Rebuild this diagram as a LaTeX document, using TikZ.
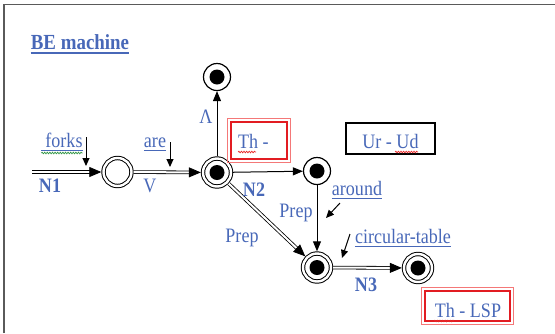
\documentclass[tikz,border=0pt]{standalone}
\usepackage{fontspec}
\setmainfont{Liberation Serif}
\newfontfamily\lblfont[FakeStretch=0.88]{Liberation Serif}
\usetikzlibrary{arrows.meta,decorations.pathmorphing}
\definecolor{lblue}{RGB}{72,104,184}
\definecolor{boxred}{RGB}{226,28,34}
\definecolor{boxpink}{RGB}{244,120,120}
\definecolor{framegray}{RGB}{90,90,90}
\definecolor{spellred}{RGB}{232,40,40}
\definecolor{spellgreen}{RGB}{50,150,70}
\begin{document}
\begin{tikzpicture}[x=1pt,y=-1pt,
  lbl/.style={text=lblue,font=\lblfont\fontsize{20.5}{22}\selectfont,inner sep=0pt,anchor=base},
  blbl/.style={lbl,font=\lblfont\fontsize{20.5}{22}\selectfont\bfseries},
  uline/.style={draw=lblue,line width=1pt},
  dstate/.style={circle,draw=black,line width=1pt,double=white,double distance=2.4pt,
    minimum size=28pt,inner sep=0pt,outer sep=2.2pt},
  sstate/.style={circle,draw=black,line width=1.2pt,minimum size=27pt,inner sep=0pt,outer sep=0.6pt},
  dot/.style={path picture={\fill[black] (path picture bounding box.center) circle (7.5pt);}},
  dbl/.style={draw=black,line width=0.8pt,double=white,double distance=2pt,
    -{Triangle[length=12pt,width=10pt]}},
  sgl/.style={draw=black,line width=1pt,-{Triangle[length=10pt,width=8pt]}},
  hint/.style={draw=black,line width=1pt,-{Triangle[length=8pt,width=7pt]}},
  spell/.style={decorate,decoration={snake,amplitude=0.8pt,segment length=2.6pt},line width=0.7pt},
  redbox/.style={draw=boxred,line width=1.4pt,inner sep=0pt},
]
\useasboundingbox (0,0) rectangle (555,333);
% frame
\draw[framegray,line width=1.5pt] (4,333) -- (4,4.5) -- (555,4.5);

% title
\node[blbl,font=\lblfont\fontsize{21.5}{23}\selectfont\bfseries] (title) at (80,49) {BE machine};
\draw[uline,line width=2pt] ([yshift=-4pt]title.base west) -- ([yshift=-4pt]title.base east);

% states
\node[dstate] (s1) at (117.5,172) {};
\node[dstate,dot] (n2) at (217,172.5) {};
\node[sstate,dot] (top) at (217,77) {};
\node[sstate,dot] (s3) at (317,171) {};
\node[dstate,dot] (n3) at (317,267.5) {};
\node[dstate,dot] (fin) at (418,268) {};
\coordinate (start) at (32,172);

% transitions
\draw[dbl] (start) -- (s1);
\draw[dbl] (s1) -- (n2);
\draw[sgl] (n2) -- (top);
\draw[sgl] (n2) -- (s3);
\draw[sgl] (s3) -- (n3);
\draw[dbl] (n2) -- (n3);
\draw[dbl] (n3) -- (fin);

% edge labels
\node[blbl] (lN1) at (50,192) {N1};
\node[lbl] (lV) at (150,192) {V};
\node[lbl] (lL) at (206,123) {Λ};
\node[blbl] (lN2) at (254,196) {N2};
\node[lbl] (lP1) at (296,217) {Prep};
\node[lbl] (lP2) at (242,242) {Prep};
\node[blbl] (lN3) at (366,291) {N3};

% words with their pointers
\node[lbl] (wforks) at (64,147) {forks};
\draw[uline] ([xshift=-4pt,yshift=-3pt]wforks.base west) -- ([yshift=-3pt]wforks.base east);
\draw[spell,spellgreen] ([xshift=-4pt,yshift=-6pt]wforks.base west) -- ([yshift=-6pt]wforks.base east);
\coordinate (pforks0) at (86,137);
\coordinate (pforks1) at (86,166);
\draw[hint] (pforks0) -- (pforks1);

\node[lbl] (ware) at (155,147) {are};
\draw[uline] ([yshift=-3pt]ware.base west) -- ([yshift=-3pt]ware.base east);
\coordinate (pare0) at (170,142);
\coordinate (pare1) at (170,167);
\draw[hint] (pare0) -- (pare1);

\node[lbl] (waround) at (357,195) {around};
\draw[uline] ([yshift=-3pt]waround.base west) -- ([yshift=-3pt]waround.base east);
\coordinate (paround0) at (340,203);
\coordinate (paround1) at (326,218);
\draw[hint] (paround0) -- (paround1);

\node[lbl] (wtable) at (403,243) {circular-table};
\draw[uline] ([yshift=-3pt]wtable.base west) -- ([yshift=-3pt]wtable.base east);
\coordinate (ptable0) at (350,234);
\coordinate (ptable1) at (342,258);
\draw[hint] (ptable0) -- (ptable1);

% annotation boxes
\node[redbox,minimum width=56pt,minimum height=37pt] (thbox) at (259,140.5) {};
\draw[boxpink,line width=0.8pt] ([shift={(-2.5pt,2.5pt)}]thbox.north west) rectangle ([shift={(2.5pt,-2.5pt)}]thbox.south east);
\node[lbl,anchor=base west] (thtext) at (238,148) {Th -};
\draw[spell,spellred] (238,152) -- (256,152);

\node[draw=black,line width=1.2pt,minimum width=89pt,minimum height=31pt,inner sep=0pt] (urbox) at (390.5,138.5) {};
\node[lbl] (urtext) at (390.5,148) {Ur - Ud};
\draw[spell,spellred] (395,152) -- (418,152);

\node[redbox,minimum width=85pt,minimum height=30pt] (lspbox) at (467.5,306) {};
\draw[boxpink,line width=0.8pt] ([shift={(-2.5pt,2.5pt)}]lspbox.north west) rectangle ([shift={(2.5pt,-2.5pt)}]lspbox.south east);
\node[lbl] (lsptext) at (468,317) {Th - LSP};
\draw[spell,spellred] (434,321) -- (454,321);
\end{tikzpicture}
\end{document}
